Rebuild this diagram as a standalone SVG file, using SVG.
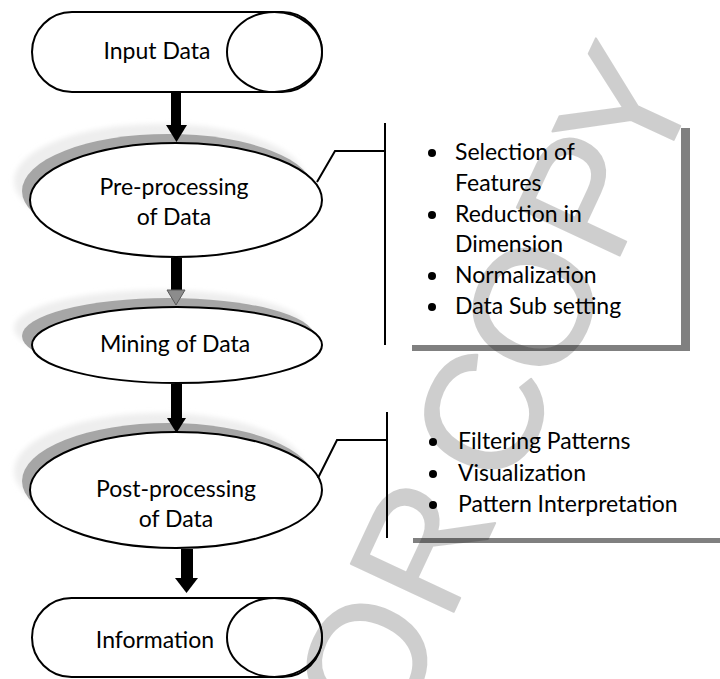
<svg xmlns="http://www.w3.org/2000/svg" width="720" height="679" viewBox="0 0 720 679">
  <defs>
    <style>
      .outline { fill: #ffffff; stroke: #000000; stroke-width: 2; }
      .label { font-family: Lato, "Open Sans", sans-serif; font-size: 23px; fill: #000000; }
      .mid { text-anchor: middle; }
      .link { fill: none; stroke: #000000; stroke-width: 2; }
      .shaft { fill: #000000; }
      .shadow-dark { fill: #a6a6a6; }
      .shadow-haze { fill: #eeeeee; filter: url(#soft); }
      .bar { fill: #808080; }
      .dot { fill: #000000; }
    </style>
    <filter id="soft" x="-10%" y="-20%" width="120%" height="140%">
      <feGaussianBlur stdDeviation="2.5"/>
    </filter>
  </defs>

  <rect width="720" height="679" fill="#ffffff"/>

  <!-- side detail panels -->
  <g id="panel-preprocessing">
    <rect class="bar" x="681" y="128" width="9" height="223"/>
    <rect class="bar" x="412" y="345" width="278" height="6"/>
    <circle class="dot" cx="432" cy="153" r="4"/>
    <text class="label" x="455" y="160">Selection of</text>
    <text class="label" x="455" y="191">Features</text>
    <circle class="dot" cx="432" cy="215" r="4"/>
    <text class="label" x="455" y="222">Reduction in</text>
    <text class="label" x="455" y="252">Dimension</text>
    <circle class="dot" cx="432" cy="276" r="4"/>
    <text class="label" x="455" y="283">Normalization</text>
    <circle class="dot" cx="432" cy="307" r="4"/>
    <text class="label" x="455" y="314">Data Sub setting</text>
  </g>

  <g id="panel-postprocessing">
    <rect class="bar" x="413" y="538" width="307" height="5"/>
    <circle class="dot" cx="433" cy="442" r="4"/>
    <text class="label" x="458" y="449">Filtering Patterns</text>
    <circle class="dot" cx="433" cy="474" r="4"/>
    <text class="label" x="458" y="481">Visualization</text>
    <circle class="dot" cx="433" cy="505" r="4"/>
    <text class="label" x="458" y="512">Pattern Interpretation</text>
  </g>

  <g id="input-data">
    <rect class="outline" x="32" y="12" width="290" height="80" rx="40" ry="40"/>
    <ellipse class="outline" cx="274.5" cy="52" rx="47.5" ry="40"/>
    <text class="label mid" x="157" y="59">Input Data</text>
  </g>

  <g id="preprocessing">
    <ellipse class="shadow-haze" cx="160" cy="181" rx="146" ry="57"/>
    <ellipse class="shadow-dark" cx="168" cy="191" rx="146" ry="57"/>
    <ellipse class="outline" cx="176" cy="200" rx="146" ry="57"/>
    <text class="label mid" x="174" y="195">Pre-processing</text>
    <text class="label mid" x="174" y="225">of Data</text>
  </g>

  <g id="mining">
    <ellipse class="shadow-haze" cx="160" cy="328" rx="146" ry="38"/>
    <ellipse class="shadow-dark" cx="168" cy="336" rx="146" ry="38"/>
    <ellipse class="outline" cx="177" cy="345" rx="145" ry="38"/>
    <text class="label mid" x="175" y="352">Mining of Data</text>
  </g>

  <g id="postprocessing">
    <ellipse class="shadow-haze" cx="160" cy="471" rx="146" ry="58"/>
    <ellipse class="shadow-dark" cx="168" cy="481" rx="146" ry="58"/>
    <ellipse class="outline" cx="176" cy="490" rx="146" ry="58"/>
    <text class="label mid" x="176" y="497">Post-processing</text>
    <text class="label mid" x="176" y="527">of Data</text>
  </g>

  <g id="information">
    <rect class="outline" x="32" y="598" width="290" height="79" rx="39.5" ry="39.5"/>
    <ellipse class="outline" cx="274.5" cy="637.5" rx="47.5" ry="39.5"/>
    <text class="label mid" x="155" y="648">Information</text>
  </g>

  <!-- connectors, drawn over the node shadows -->
  <g id="connectors">
    <rect class="shaft" x="171" y="93" width="10" height="33"/>
    <polygon class="shaft" points="166,125 187,125 176.5,142"/>

    <rect class="shaft" x="171" y="258" width="11" height="33"/>
    <polygon points="167,290 185,290 176,305" fill="#8c8c8c" stroke="#5a5a5a" stroke-width="1"/>

    <rect class="shaft" x="171" y="384" width="11" height="35"/>
    <polygon class="shaft" points="167,418 186,418 176.5,433"/>

    <rect class="shaft" x="181" y="549" width="12" height="30"/>
    <polygon class="shaft" points="175,578 198,578 186.5,593"/>

    <polyline class="link" points="317,182 335,151 385,151"/>
    <line class="link" x1="385" y1="123" x2="385" y2="345"/>

    <polyline class="link" points="318,478 337,440 387,440"/>
    <line class="link" x1="387" y1="412" x2="387" y2="538"/>
  </g>

  <!-- diagonal watermark, laid over everything; glyphs placed along the baseline -->
  <g opacity="0.19">
    <text transform="translate(607 283) rotate(-65)" x="-509.7 -376.2 -260 -231.6 -116.9 16.8 110.6" y="0" font-family="'Liberation Sans', Arial, sans-serif" font-size="165" fill="#000000" stroke="#000000" stroke-width="2" stroke-linejoin="round">OR COPY</text>
  </g>
</svg>
